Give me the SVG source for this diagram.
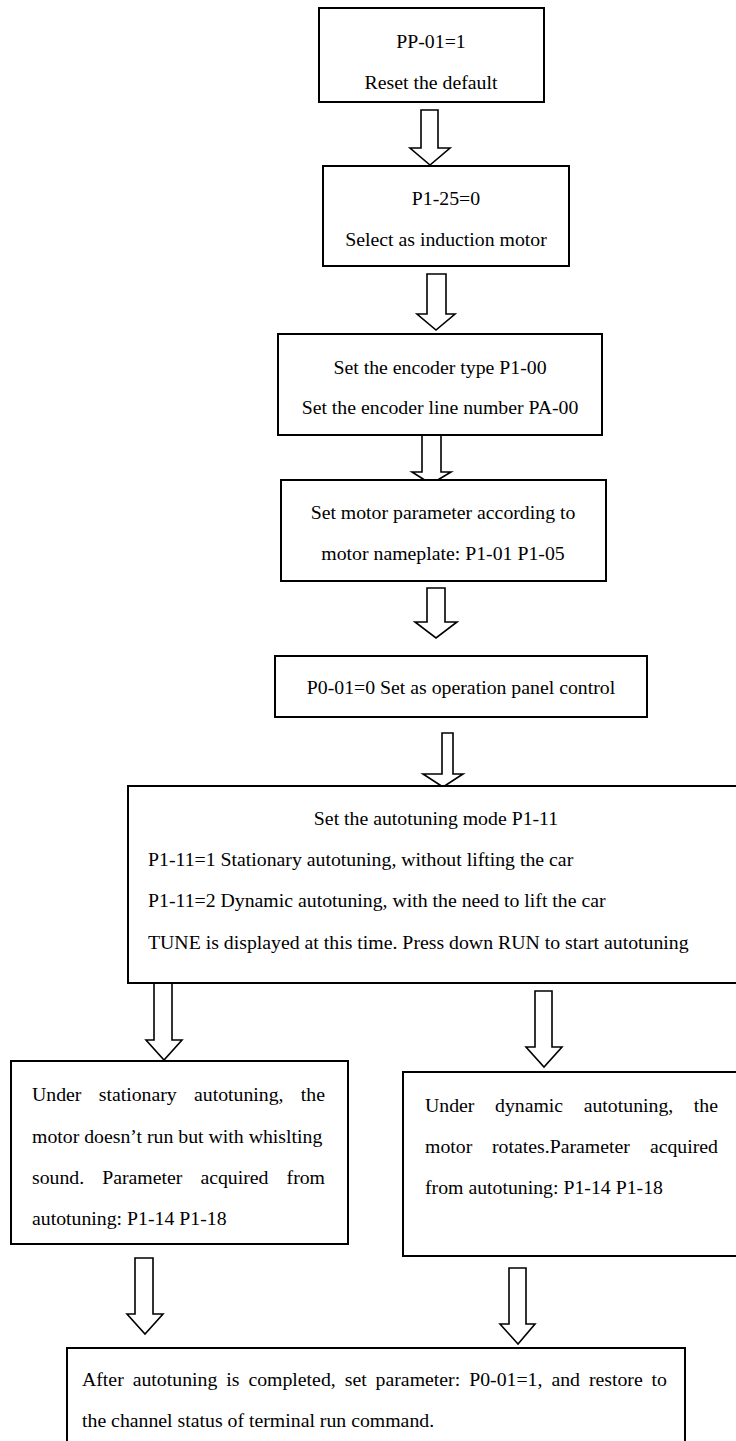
<svg xmlns="http://www.w3.org/2000/svg" width="736" height="1441" viewBox="0 0 736 1441">
<style>
.box{fill:#fff;stroke:#000;stroke-width:2}
.arr{fill:#fff;stroke:#000;stroke-width:1.6;stroke-linejoin:miter}
text{font-family:"Liberation Serif","Times New Roman",serif;font-size:19.8px;fill:#000}
.m{text-anchor:middle}
.e{text-anchor:end}
</style>
<rect width="736" height="1441" fill="#fff"/>
<g id="connectors">
<polygon class="arr" points="421,110 438,110 438,148 450,148 430,165 410,148 421,148"/>
<polygon class="arr" points="427,274 446,274 446,314 455,314 436,330 417,314 427,314"/>
<polygon class="arr" points="422,431 441,431 441,472 451,472 431,484 412,472 422,472"/>
<polygon class="arr" points="427,588 445,588 445,622 457,622 436,638 415,622 427,622"/>
<polygon class="arr" points="442,733 453,733 453,774 463,774 443,787 423,774 442,774"/>
<polygon class="arr" points="154,975 172,975 172,1040 182,1040 164,1060 146,1040 154,1040"/>
<polygon class="arr" points="535,991 552,991 552,1047 562,1047 544,1067 526,1047 535,1047"/>
<polygon class="arr" points="135,1258 153,1258 153,1314 163,1314 145,1334 127,1314 135,1314"/>
<polygon class="arr" points="509,1268 526,1268 526,1324 535,1324 518,1344 500,1324 509,1324"/>
</g>
<g id="n1">
<rect class="box" x="319" y="8" width="225" height="94"/>
<text class="m" x="431" y="48">PP-01=1</text>
<text class="m" x="431" y="89">Reset the default</text>
</g>
<g id="n2">
<rect class="box" x="323" y="166" width="246" height="100"/>
<text class="m" x="446" y="205">P1-25=0</text>
<text class="m" x="446" y="246">Select as induction motor</text>
</g>
<g id="n3">
<rect class="box" x="278" y="334" width="324" height="101"/>
<text class="m" x="440" y="374">Set the encoder type P1-00</text>
<text class="m" x="440" y="414">Set the encoder line number PA-00</text>
</g>
<g id="n4">
<rect class="box" x="281" y="480" width="325" height="101"/>
<text class="m" x="443" y="519">Set motor parameter according to</text>
<text class="m" x="443" y="560">motor nameplate: P1-01 P1-05</text>
</g>
<g id="n5">
<rect class="box" x="275" y="656" width="372" height="61"/>
<text class="m" x="461" y="694">P0-01=0 Set as operation panel control</text>
</g>
<g id="n6">
<rect class="box" x="128" y="786" width="614" height="197"/>
<text class="m" x="436" y="825">Set the autotuning mode P1-11</text>
<text x="148" y="866">P1-11=1 Stationary autotuning, without lifting the car</text>
<text x="148" y="907">P1-11=2 Dynamic autotuning, with the need to lift the car</text>
<text x="148" y="949">TUNE is displayed at this time. Press down RUN to start autotuning</text>
</g>
<g id="n7">
<rect class="box" x="11" y="1061" width="337" height="183"/>
<text y="1101"><tspan x="32">Under</tspan><tspan x="98.7">stationary</tspan><tspan x="194">autotuning,</tspan><tspan x="325" text-anchor="end">the</tspan></text>
<text x="32" y="1143">motor doesn’t run but with whislting</text>
<text y="1184"><tspan x="32">sound.</tspan><tspan x="102.2">Parameter</tspan><tspan x="200.4">acquired</tspan><tspan x="325" text-anchor="end">from</tspan></text>
<text x="32" y="1225">autotuning: P1-14 P1-18</text>
</g>
<g id="n8">
<rect class="box" x="403" y="1072" width="340" height="184"/>
<text y="1112"><tspan x="425">Under</tspan><tspan x="495">dynamic</tspan><tspan x="583.7">autotuning,</tspan><tspan x="718" text-anchor="end">the</tspan></text>
<text y="1153"><tspan x="425">motor</tspan><tspan x="492">rotates.Parameter</tspan><tspan x="718" text-anchor="end">acquired</tspan></text>
<text x="425" y="1194">from autotuning: P1-14 P1-18</text>
</g>
<g id="n9">
<rect class="box" x="67" y="1348" width="618" height="110"/>
<text y="1386"><tspan x="82">After</tspan><tspan x="132.7">autotuning</tspan><tspan x="226.3">is</tspan><tspan x="248.4">completed,</tspan><tspan x="344.7">set</tspan><tspan x="375.6">parameter:</tspan><tspan x="469.2">P0-01=1,</tspan><tspan x="551.4">and</tspan><tspan x="588.9">restore</tspan><tspan x="667" text-anchor="end">to</tspan></text>
<text x="82" y="1427">the channel status of terminal run command.</text>
</g>
</svg>
